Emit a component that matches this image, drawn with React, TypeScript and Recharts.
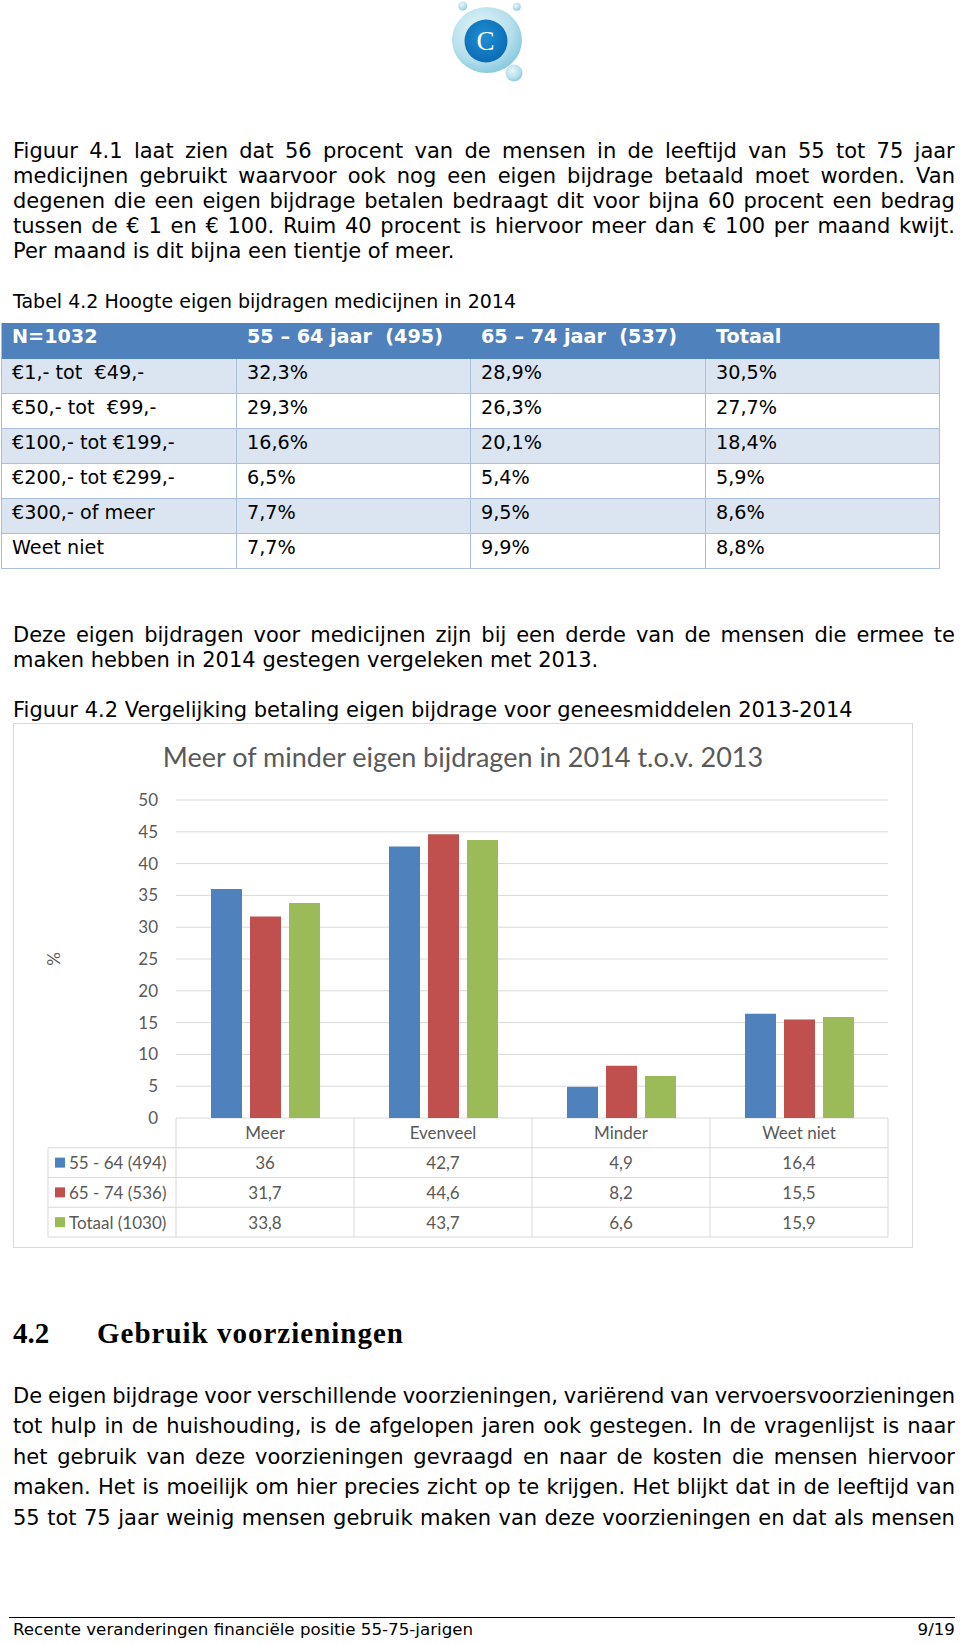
import React from 'react';
import { BarChart, Bar, XAxis, YAxis, CartesianGrid, Label } from 'recharts';

// --- chart data (Figuur 4.2) ---
const categories = ['Meer', 'Evenveel', 'Minder', 'Weet niet'];
const age5564 = [36, 42.7, 4.9, 16.4];
const age6574 = [31.7, 44.6, 8.2, 15.5];
const totaal = [33.8, 43.7, 6.6, 15.9];
const seriesNames = ['55 - 64 (494)', '65 - 74 (536)', 'Totaal (1030)'];
const seriesColors = ['#4F81BD', '#C0504D', '#9BBB59'];
const yTicks = [0, 5, 10, 15, 20, 25, 30, 35, 40, 45, 50];

// --- table data (Tabel 4.2) ---
const tableHeader = ['N=1032', '55 \u2013 64 jaar  (495)', '65 \u2013 74 jaar  (537)', 'Totaal'];
const tableLabels = ['\u20ac1,- tot  \u20ac49,-', '\u20ac50,- tot  \u20ac99,-', '\u20ac100,- tot \u20ac199,-', '\u20ac200,- tot \u20ac299,-', '\u20ac300,- of meer', 'Weet niet'];
const table5564 = ['32,3%', '29,3%', '16,6%', '6,5%', '7,7%', '7,7%'];
const table6574 = ['28,9%', '26,3%', '20,1%', '5,4%', '9,5%', '9,9%'];
const tableTotaal = ['30,5%', '27,7%', '18,4%', '5,9%', '8,6%', '8,8%'];

// --- text ---
const para1 = [
  'Figuur 4.1 laat zien dat 56 procent van de mensen in de leeftijd van 55 tot 75 jaar',
  'medicijnen gebruikt waarvoor ook nog een eigen bijdrage betaald moet worden. Van',
  'degenen die een eigen bijdrage betalen bedraagt dit voor bijna 60 procent een bedrag',
  'tussen de \u20ac 1 en \u20ac 100. Ruim 40 procent is hiervoor meer dan \u20ac 100 per maand kwijt.',
  'Per maand is dit bijna een tientje of meer.',
];
const para2 = [
  'Deze eigen bijdragen voor medicijnen zijn bij een derde van de mensen die ermee te',
  'maken hebben in 2014 gestegen vergeleken met 2013.',
];
const para3 = [
  'De eigen bijdrage voor verschillende voorzieningen, vari\u00ebrend van vervoersvoorzieningen',
  'tot hulp in de huishouding, is de afgelopen jaren ook gestegen. In de vragenlijst is naar',
  'het gebruik van deze voorzieningen gevraagd en naar de kosten die mensen hiervoor',
  'maken. Het is moeilijk om hier precies zicht op te krijgen. Het blijkt dat in de leeftijd van',
  '55 tot 75 jaar weinig mensen gebruik maken van deze voorzieningen en dat als mensen',
];
const footerText = 'Recente veranderingen financi\u00eble positie 55-75-jarigen';

const chartData = categories.map((name, i) => ({
  name,
  a: age5564[i],
  b: age6574[i],
  c: totaal[i],
}));

const BODY_FONT = "'DejaVu Sans', Verdana, sans-serif";
const CHART_FONT = 'Lato, Calibri, sans-serif';
const GREY = '#595959';
const GRID = '#d9d9d9';
const CHART_FS = 17;

const CHART_W = 899;
const CHART_H = 524;
const Y_AXIS_W = 163;
const MARGIN = { top: 77, right: 24, left: 0, bottom: 0 };
const X_AXIS_H = 129;
const PLOT_W = CHART_W - Y_AXIS_W - MARGIN.right;
const BAND = PLOT_W / categories.length;
const ROW_H = 29.75;
const LEGEND_X = 35;

const fmt = (v: number) => String(v).replace('.', ',');

// category labels + data table under the plot, one column per tick
function TableTick(props: any) {
  const { x, y, payload, index } = props;
  const i = payload?.index ?? index;
  const half = BAND / 2;
  const left = x - half;
  const right = x + half;
  const rows = [age5564, age6574, totaal];
  const txt = { fontFamily: CHART_FONT, fontSize: CHART_FS, fill: GREY };
  return (
    <g>
      <line x1={left} y1={y} x2={left} y2={y + ROW_H * 4} stroke={GRID} />
      {i === categories.length - 1 && (
        <line x1={right} y1={y} x2={right} y2={y + ROW_H * 4} stroke={GRID} />
      )}
      {[1, 2, 3, 4].map((r) => (
        <line
          key={r}
          x1={i === 0 ? LEGEND_X : left}
          x2={right}
          y1={y + ROW_H * r}
          y2={y + ROW_H * r}
          stroke={GRID}
        />
      ))}
      {i === 0 && (
        <line x1={LEGEND_X} y1={y + ROW_H} x2={LEGEND_X} y2={y + ROW_H * 4} stroke={GRID} />
      )}
      <text x={x} y={y + ROW_H / 2} textAnchor="middle" dominantBaseline="central" {...txt}>
        {payload.value}
      </text>
      {rows.map((vals, r) => (
        <text
          key={r}
          x={x}
          y={y + ROW_H * (r + 1) + ROW_H / 2}
          textAnchor="middle"
          dominantBaseline="central"
          {...txt}
        >
          {fmt(vals[i])}
        </text>
      ))}
      {i === 0 &&
        seriesNames.map((name, r) => (
          <g key={name}>
            <rect
              x={LEGEND_X + 7}
              y={y + ROW_H * (r + 1) + ROW_H / 2 - 5}
              width={10}
              height={10}
              fill={seriesColors[r]}
            />
            <text
              x={LEGEND_X + 21}
              y={y + ROW_H * (r + 1) + ROW_H / 2}
              dominantBaseline="central"
              {...txt}
            >
              {name}
            </text>
          </g>
        ))}
    </g>
  );
}

// one line of body text; justified lines spread their words over the full width
function TextLine({ text, top, last, size = 21, lh = 25 }: any) {
  const base: React.CSSProperties = {
    position: 'absolute',
    left: 13,
    top,
    width: 942,
    fontFamily: BODY_FONT,
    fontSize: size,
    lineHeight: lh + 'px',
    whiteSpace: 'nowrap',
    color: '#000',
  };
  if (last) return <div style={base}>{text}</div>;
  return (
    <div style={{ ...base, display: 'flex', justifyContent: 'space-between' }}>
      {text.split(' ').map((w: string, k: number) => (
        <span key={k}>{w}</span>
      ))}
    </div>
  );
}

function Logo() {
  return (
    <svg width={960} height={90} style={{ position: 'absolute', left: 0, top: 0 }}>
      <defs>
        <radialGradient id="bub" cx="40%" cy="35%" r="65%">
          <stop offset="0%" stopColor="#e6f5fa" />
          <stop offset="70%" stopColor="#b4dfec" />
          <stop offset="100%" stopColor="#8ccbe0" />
        </radialGradient>
        <radialGradient id="core" cx="45%" cy="40%" r="60%">
          <stop offset="0%" stopColor="#1f8fd6" />
          <stop offset="100%" stopColor="#0b6cb3" />
        </radialGradient>
      </defs>
      <ellipse cx={487} cy={40} rx={35} ry={33} fill="url(#bub)" />
      <circle cx={462.7} cy={6} r={4.5} fill="url(#bub)" />
      <circle cx={516.7} cy={6.7} r={4} fill="url(#bub)" />
      <circle cx={514} cy={73} r={8.5} fill="url(#bub)" />
      <circle cx={486} cy={41} r={21.5} fill="url(#core)" />
      <text
        x={485.5}
        y={50}
        textAnchor="middle"
        fontFamily="'Liberation Serif', serif"
        fontSize={27}
        fill="#fff"
      >
        C
      </text>
    </svg>
  );
}

function DataTable() {
  const cols = [1, 236, 470, 705, 940];
  const rowsTop = 359;
  const rowH = 35;
  const border = '#a9bfdc';
  const cell = (text: string, colIdx: number, top: number, h: number, bold = false, color = '#000') => (
    <div
      key={colIdx + '-' + top}
      style={{
        position: 'absolute',
        left: cols[colIdx] + 11,
        top,
        height: h,
        fontFamily: BODY_FONT,
        fontSize: 19.2,
        fontWeight: bold ? 700 : 400,
        lineHeight: '27px',
        whiteSpace: 'pre',
        color,
      }}
    >
      {text}
    </div>
  );
  const columns = [tableLabels, table5564, table6574, tableTotaal];
  return (
    <>
      <div
        style={{
          position: 'absolute',
          left: 1,
          top: 323,
          width: 939,
          height: 36,
          background: '#4F81BD',
        }}
      />
      {tableHeader.map((h, c) => cell(h, c, 323, 36, true, '#fff'))}
      {tableLabels.map((_, r) => (
        <div
          key={'bg' + r}
          style={{
            position: 'absolute',
            left: 1,
            top: rowsTop + r * rowH,
            width: 939,
            height: rowH,
            background: r % 2 === 0 ? '#DBE5F1' : '#fff',
            borderBottom: '1px solid ' + border,
            boxSizing: 'border-box',
          }}
        />
      ))}
      {cols.map((x, c) => (
        <div
          key={'v' + c}
          style={{
            position: 'absolute',
            left: x - (c === cols.length - 1 ? 1 : 0),
            top: c === 0 || c === cols.length - 1 ? 323 : rowsTop,
            width: 1,
            height: c === 0 || c === cols.length - 1 ? rowsTop - 323 + rowH * 6 : rowH * 6,
            background: border,
          }}
        />
      ))}
      {columns.map((col, c) =>
        col.map((t, r) => cell(t, c, rowsTop + r * rowH, rowH))
      )}
    </>
  );
}

function Chart() {
  return (
    <>
      <div
        style={{
          position: 'absolute',
          left: 13,
          top: 723,
          width: 900,
          height: 525,
          border: '1px solid ' + GRID,
          boxSizing: 'border-box',
        }}
      />
      <div
        style={{
          position: 'absolute',
          left: 13,
          top: 741,
          width: 900,
          textAlign: 'center',
          fontFamily: CHART_FONT,
          fontSize: 27,
          lineHeight: '31px',
          color: GREY,
        }}
      >
        Meer of minder eigen bijdragen in 2014 t.o.v. 2013
      </div>
      <div style={{ position: 'absolute', left: 13, top: 723 }}>
        <BarChart
          width={CHART_W}
          height={CHART_H}
          data={chartData}
          margin={MARGIN}
          barSize={31}
          barGap={8}
        >
          <CartesianGrid vertical={false} stroke={GRID} />
          <XAxis
            dataKey="name"
            axisLine={false}
            tickLine={false}
            tickSize={0}
            tickMargin={0}
            interval={0}
            height={X_AXIS_H}
            tick={(p: any) => <TableTick {...p} />}
          />
          <YAxis
            width={Y_AXIS_W}
            domain={[0, 50]}
            ticks={yTicks}
            axisLine={false}
            tickLine={false}
            tickSize={0}
            tickMargin={18}
            tick={{ fill: GREY, fontSize: CHART_FS, fontFamily: CHART_FONT }}
          >
            <Label
              content={(p: any) => {
                const vb = p.viewBox || { x: 0, y: 0, width: 0, height: 0 };
                const cx = vb.x + 40;
                const cy = vb.y + vb.height / 2;
                return (
                  <text
                    x={cx}
                    y={cy}
                    transform={`rotate(-90 ${cx} ${cy})`}
                    textAnchor="middle"
                    dominantBaseline="central"
                    fontFamily={CHART_FONT}
                    fontSize={CHART_FS}
                    fill={GREY}
                  >
                    %
                  </text>
                );
              }}
            />
          </YAxis>
          <Bar dataKey="a" name={seriesNames[0]} fill={seriesColors[0]} isAnimationActive={false} />
          <Bar dataKey="b" name={seriesNames[1]} fill={seriesColors[1]} isAnimationActive={false} />
          <Bar dataKey="c" name={seriesNames[2]} fill={seriesColors[2]} isAnimationActive={false} />
        </BarChart>
      </div>
    </>
  );
}

export default function App() {
  const headingStyle: React.CSSProperties = {
    position: 'absolute',
    top: 1316,
    fontFamily: "'Liberation Serif', 'Times New Roman', serif",
    fontWeight: 700,
    fontSize: 29,
    lineHeight: '34px',
    color: '#000',
    whiteSpace: 'nowrap',
  };
  return (
    <div
      style={{
        position: 'absolute',
        left: 0,
        top: 0,
        width: 960,
        height: 1644,
        background: '#fff',
        overflow: 'hidden',
      }}
    >
      <Logo />

      {para1.map((t, i) => (
        <TextLine key={t} text={t} top={139 + i * 25} last={i === para1.length - 1} />
      ))}

      <TextLine text="Tabel 4.2 Hoogte eigen bijdragen medicijnen in 2014" top={289} size={19} last />

      <DataTable />

      {para2.map((t, i) => (
        <TextLine key={t} text={t} top={623 + i * 25} last={i === para2.length - 1} />
      ))}

      <TextLine
        text="Figuur 4.2 Vergelijking betaling eigen bijdrage voor geneesmiddelen 2013-2014"
        top={698}
        last
      />

      <Chart />

      <div style={{ ...headingStyle, left: 13 }}>4.2</div>
      <div style={{ ...headingStyle, left: 97, letterSpacing: 1 }}>Gebruik voorzieningen</div>

      {para3.map((t, i) => (
        <TextLine key={t} text={t} top={1380.5 + i * 30.5} lh={30.5} last={false} />
      ))}

      <div style={{ position: 'absolute', left: 9, top: 1617, width: 946, height: 1, background: '#000' }} />
      <div
        style={{
          position: 'absolute',
          left: 13,
          top: 1618.5,
          width: 942,
          fontFamily: BODY_FONT,
          fontSize: 16.7,
          lineHeight: '20px',
          color: '#000',
          display: 'flex',
          justifyContent: 'space-between',
        }}
      >
        <span>{footerText}</span>
        <span>9/19</span>
      </div>
    </div>
  );
}
